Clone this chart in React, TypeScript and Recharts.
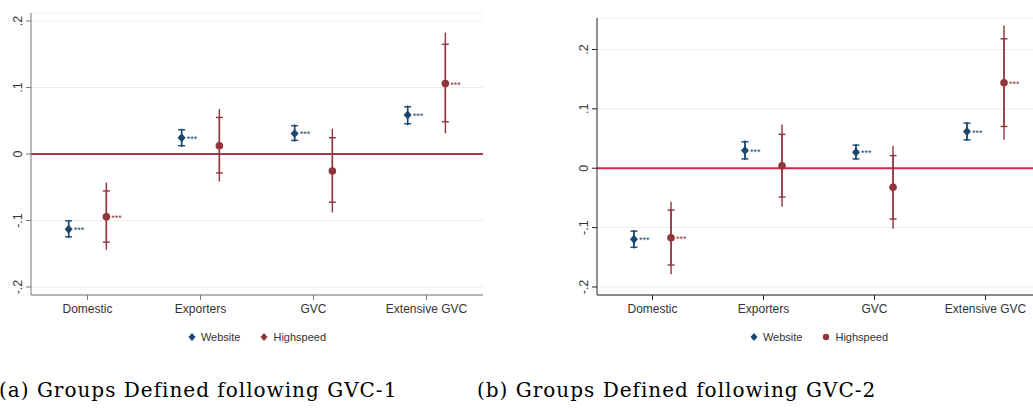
import React from "react";
import {
  ScatterChart,
  Scatter,
  ErrorBar,
  XAxis,
  YAxis,
  CartesianGrid,
  ReferenceLine,
  Legend,
} from "recharts";

const categories = ["Domestic", "Exporters", "GVC", "Extensive GVC"];
const yTicks = [-0.2, -0.1, 0, 0.1, 0.2];

// (a) groups defined following GVC-1
const websiteA = [-0.113, 0.0245, 0.031, 0.0585];
const websiteACap = [[-0.1245, -0.1005], [0.0125, 0.0365], [0.0205, 0.0425], [0.0455, 0.071]];
const websiteALine = [[-0.1265, -0.099], [0.0105, 0.038], [0.0185, 0.0445], [0.043, 0.073]];
const highspeedA = [-0.0945, 0.0125, -0.0255, 0.106];
const highspeedACap = [[-0.1325, -0.0555], [-0.0285, 0.055], [-0.0725, 0.0245], [0.0485, 0.165]];
const highspeedALine = [[-0.144, -0.043], [-0.0415, 0.0675], [-0.088, 0.038], [0.031, 0.1825]];

// (b) groups defined following GVC-2
const websiteB = [-0.1195, 0.0297, 0.027, 0.0618];
const websiteBCap = [[-0.133, -0.106], [0.0157, 0.0445], [0.0157, 0.0389], [0.0478, 0.076]];
const websiteBLine = [[-0.135, -0.104], [0.0137, 0.0465], [0.0137, 0.0409], [0.0458, 0.078]];
const highspeedB = [-0.117, 0.004, -0.032, 0.144];
const highspeedBCap = [[-0.163, -0.0705], [-0.0485, 0.057], [-0.0856, 0.0213], [0.0703, 0.218]];
const highspeedBLine = [[-0.1785, -0.0565], [-0.065, 0.0737], [-0.102, 0.0377], [0.0478, 0.2404]];

const websiteStars = ["***", "***", "***", "***"];
const highspeedStars = ["***", "", "", "***"];

const NAVY = "#1a476f";
const MAROON = "#90353b";
const FONT = "'Liberation Sans', Arial, sans-serif";

function buildRows(values: number[], caps: number[][], lines: number[][], stars: string[], shift: number) {
  return values.map((v, i) => ({
    x: i + 0.5 + shift,
    y: v,
    cap: [v - caps[i][0], caps[i][1] - v],
    line: [v - lines[i][0], lines[i][1] - v],
    stars: stars[i],
  }));
}

const fmtY = (v: number) => {
  if (v === 0) return "0";
  const s = String(Math.abs(v)).replace(/^0/, "");
  return v < 0 ? "-" + s : s;
};

const YTick = (props: any) => {
  const { x, y, payload } = props;
  const tx = x - 2;
  return (
    <text
      x={tx}
      y={y}
      transform={`rotate(-90, ${tx}, ${y})`}
      textAnchor="middle"
      fontSize={12.5}
      fontFamily={FONT}
      fill="#333"
    >
      {fmtY(payload.value)}
    </text>
  );
};

const makeShape = (kind: "diamond" | "circle", color: string) => (props: any) => {
  const { cx, cy, payload } = props;
  return (
    <g>
      {kind === "diamond" ? (
        <polygon
          points={`${cx},${cy - 4.5} ${cx + 4},${cy} ${cx},${cy + 4.5} ${cx - 4},${cy}`}
          fill={color}
        />
      ) : (
        <circle cx={cx} cy={cy} r={3.8} fill={color} />
      )}
      {payload.stars ? (
        <text x={cx + 5} y={cy + 4} fontSize={9} fontFamily={FONT} fill={color}>
          {payload.stars}
        </text>
      ) : null}
    </g>
  );
};

const LegendMark = ({ kind, color }: { kind: "diamond" | "circle"; color: string }) => (
  <svg width={8} height={10} style={{ marginRight: 5 }}>
    {kind === "diamond" ? (
      <polygon points="4,1 7.5,5 4,9 0.5,5" fill={color} />
    ) : (
      <circle cx={4} cy={5} r={3.2} fill={color} />
    )}
  </svg>
);

interface PanelProps {
  left: number;
  width: number;
  top: number;
  right: number;
  yAxisWidth: number;
  domain: [number, number];
  website: any[];
  highspeed: any[];
  zeroColor: string;
  axisColor: string;
  legendKind: "diamond" | "circle";
}

function Panel(p: PanelProps) {
  const plotWidth = p.width - p.yAxisWidth - p.right;
  return (
    <div style={{ position: "absolute", left: p.left, top: 0 }}>
      <ScatterChart
        width={p.width}
        height={349}
        margin={{ top: p.top, right: p.right, left: 0, bottom: 0 }}
      >
        <CartesianGrid vertical={false} stroke="#ececec" strokeWidth={1} />
        <XAxis
          type="number"
          dataKey="x"
          domain={[0, 4]}
          ticks={[0.5, 1.5, 2.5, 3.5]}
          interval={0}
          tickFormatter={(v: number) => categories[Math.floor(v)]}
          height={30}
          tickSize={5}
          tickMargin={4}
          stroke={p.axisColor}
          tick={{ fill: "#333", fontSize: 12, fontFamily: FONT }}
        />
        <YAxis
          type="number"
          dataKey="y"
          domain={p.domain}
          ticks={yTicks}
          interval={0}
          width={p.yAxisWidth}
          tickSize={5}
          tickMargin={2}
          stroke={p.axisColor}
          tick={<YTick />}
        />
        <ReferenceLine y={0} stroke={p.zeroColor} strokeWidth={2} />
        <Legend
          verticalAlign="bottom"
          wrapperStyle={{ left: p.yAxisWidth, width: plotWidth }}
          content={() => (
            <div
              style={{
                height: 24,
                display: "flex",
                alignItems: "center",
                justifyContent: "center",
                fontFamily: FONT,
                fontSize: 11,
                color: "#333",
              }}
            >
              <LegendMark kind="diamond" color={NAVY} />
              <span style={{ marginRight: 20 }}>Website</span>
              <LegendMark kind={p.legendKind} color={MAROON} />
              <span>Highspeed</span>
            </div>
          )}
        />
        <Scatter
          name="Website"
          data={p.website}
          fill={NAVY}
          shape={makeShape("diamond", NAVY)}
          isAnimationActive={false}
        >
          <ErrorBar dataKey="line" direction="y" width={0} stroke={NAVY} strokeWidth={1.4} />
          <ErrorBar dataKey="cap" direction="y" width={3.5} stroke={NAVY} strokeWidth={1.4} />
        </Scatter>
        <Scatter
          name="Highspeed"
          data={p.highspeed}
          fill={MAROON}
          shape={makeShape("circle", MAROON)}
          isAnimationActive={false}
        >
          <ErrorBar dataKey="line" direction="y" width={0} stroke={MAROON} strokeWidth={1.4} />
          <ErrorBar dataKey="cap" direction="y" width={3.5} stroke={MAROON} strokeWidth={1.4} />
        </Scatter>
      </ScatterChart>
    </div>
  );
}

export default function App() {
  const shift = 0.167;
  return (
    <div
      style={{
        position: "absolute",
        left: 0,
        top: 0,
        width: 1033,
        height: 408,
        overflow: "hidden",
        background: "#fff",
      }}
    >
      <Panel
        left={0}
        width={500}
        top={13}
        right={17}
        yAxisWidth={31}
        domain={[-0.212, 0.212]}
        website={buildRows(websiteA, websiteACap, websiteALine, websiteStars, -shift)}
        highspeed={buildRows(highspeedA, highspeedACap, highspeedALine, highspeedStars, shift)}
        zeroColor="#a33b52"
        axisColor="#777"
        legendKind="diamond"
      />
      <Panel
        left={565}
        width={486}
        top={18}
        right={10}
        yAxisWidth={32}
        domain={[-0.2135, 0.253]}
        website={buildRows(websiteB, websiteBCap, websiteBLine, websiteStars, -shift)}
        highspeed={buildRows(highspeedB, highspeedBCap, highspeedBLine, highspeedStars, shift)}
        zeroColor="#d2264f"
        axisColor="#222"
        legendKind="circle"
      />
      <svg
        width={1033}
        height={408}
        style={{ position: "absolute", left: 0, top: 0, pointerEvents: "none" }}
      >
        <text x={-1} y={397} fontSize={20} letterSpacing={1} fontFamily="'DejaVu Serif', serif" fill="#000">
          (a) Groups Defined following GVC-1
        </text>
        <text x={477} y={397} fontSize={20} letterSpacing={1} fontFamily="'DejaVu Serif', serif" fill="#000">
          (b) Groups Defined following GVC-2
        </text>
      </svg>
    </div>
  );
}
